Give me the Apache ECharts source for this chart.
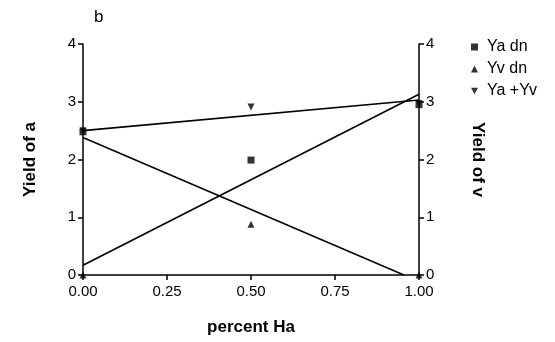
<!DOCTYPE html>
<html><head><meta charset="utf-8">
<script src="https://cdn.jsdelivr.net/npm/echarts@6/dist/echarts.min.js"></script>
<style>html,body{margin:0;padding:0;background:#fff}#c{width:555px;height:342px}</style>
</head><body><div id="c"></div>
<script>
var xTicks = [0, 0.25, 0.5, 0.75, 1.0];
var yTicks = [0, 1, 2, 3, 4];
var percentHa = [0, 0.5, 1.0];
var yaDn = [2.48, 1.99, 2.95];
var yvDn = [0, 0.88, 0];
var yaPlusYv = [2.5, 2.91, 2.97];
// fitted lines [x, y] endpoints
var fitTotal = [[0, 2.5], [1.0, 3.03]];
var fitDesc = [[0, 2.38], [0.955, 0]];
var fitAsc = [[0, 0.17], [1.0, 3.13]];

function pts(xs, ys){ return xs.map(function(x,i){return [x, ys[i]];}); }
var downTri = 'path://M0,0L10,0L5,9Z';
var font = 'Liberation Sans, Arial, sans-serif';
var chart = echarts.init(document.getElementById('c'));
var axisCommon = {
  min: 0, max: 4, interval: 1,
  axisLine: {show: true, lineStyle: {color: '#000', width: 1.5}},
  axisTick: {show: true, inside: false, length: 5, lineStyle: {color: '#000', width: 1.5}},
  axisLabel: {color: '#000', fontSize: 15, fontFamily: font, margin: 7},
  splitLine: {show: false},
  nameLocation: 'middle',
  nameTextStyle: {color: '#000', fontSize: 17, fontWeight: 'bold', fontFamily: font}
};
var lineStyle = {color: '#000', width: 1.6};
chart.setOption({
  animation: false,
  backgroundColor: '#fff',
  title: {text: 'b', left: 89, top: 4, textStyle: {fontSize: 17, fontWeight: 'normal', color: '#000', fontFamily: font}},
  grid: {left: 83, right: 136, top: 44, bottom: 67},
  legend: {
    orient: 'vertical', left: 466, top: 34, itemGap: 6, itemWidth: 7, itemHeight: 7,
    textStyle: {fontSize: 16, color: '#000', fontFamily: font, padding: [0,0,0,4]},
    data: [
      {name: 'Ya dn', icon: 'rect'},
      {name: 'Yv dn', icon: 'triangle'},
      {name: 'Ya +Yv', icon: downTri}
    ]
  },
  xAxis: {
    type: 'value', min: 0, max: 1, interval: 0.25,
    axisLine: {lineStyle: {color: '#000', width: 1.5}},
    axisTick: {show: true, length: 5, lineStyle: {color: '#000', width: 1.5}},
    axisLabel: {color: '#000', fontSize: 15, fontFamily: font, margin: 9,
      formatter: function(v){ return v.toFixed(2); }},
    splitLine: {show: false},
    name: 'percent Ha', nameLocation: 'middle', nameGap: 44,
    nameTextStyle: {color: '#000', fontSize: 17, fontWeight: 'bold', fontFamily: font}
  },
  yAxis: [
    Object.assign({}, axisCommon, {type: 'value', position: 'left', name: 'Yield of a', nameGap: 44}),
    Object.assign({}, axisCommon, {type: 'value', position: 'right', name: 'Yield of v', nameGap: 50, nameRotate: -90})
  ],
  series: [
    {type: 'line', data: fitTotal, showSymbol: false, symbol: 'none', lineStyle: lineStyle, silent: true},
    {type: 'line', data: fitDesc, showSymbol: false, symbol: 'none', lineStyle: lineStyle, silent: true},
    {type: 'line', data: fitAsc, showSymbol: false, symbol: 'none', lineStyle: lineStyle, silent: true},
    {name: 'Ya dn', type: 'scatter', data: pts(percentHa, yaDn), symbol: 'rect', symbolSize: 7, itemStyle: {color: '#000'}},
    {name: 'Yv dn', type: 'scatter', data: pts(percentHa, yvDn), symbol: 'triangle', symbolSize: 7, itemStyle: {color: '#000'}},
    {name: 'Ya +Yv', type: 'scatter', data: pts(percentHa, yaPlusYv), symbol: downTri, symbolSize: 7, itemStyle: {color: '#000'}}
  ]
});
</script></body></html>
